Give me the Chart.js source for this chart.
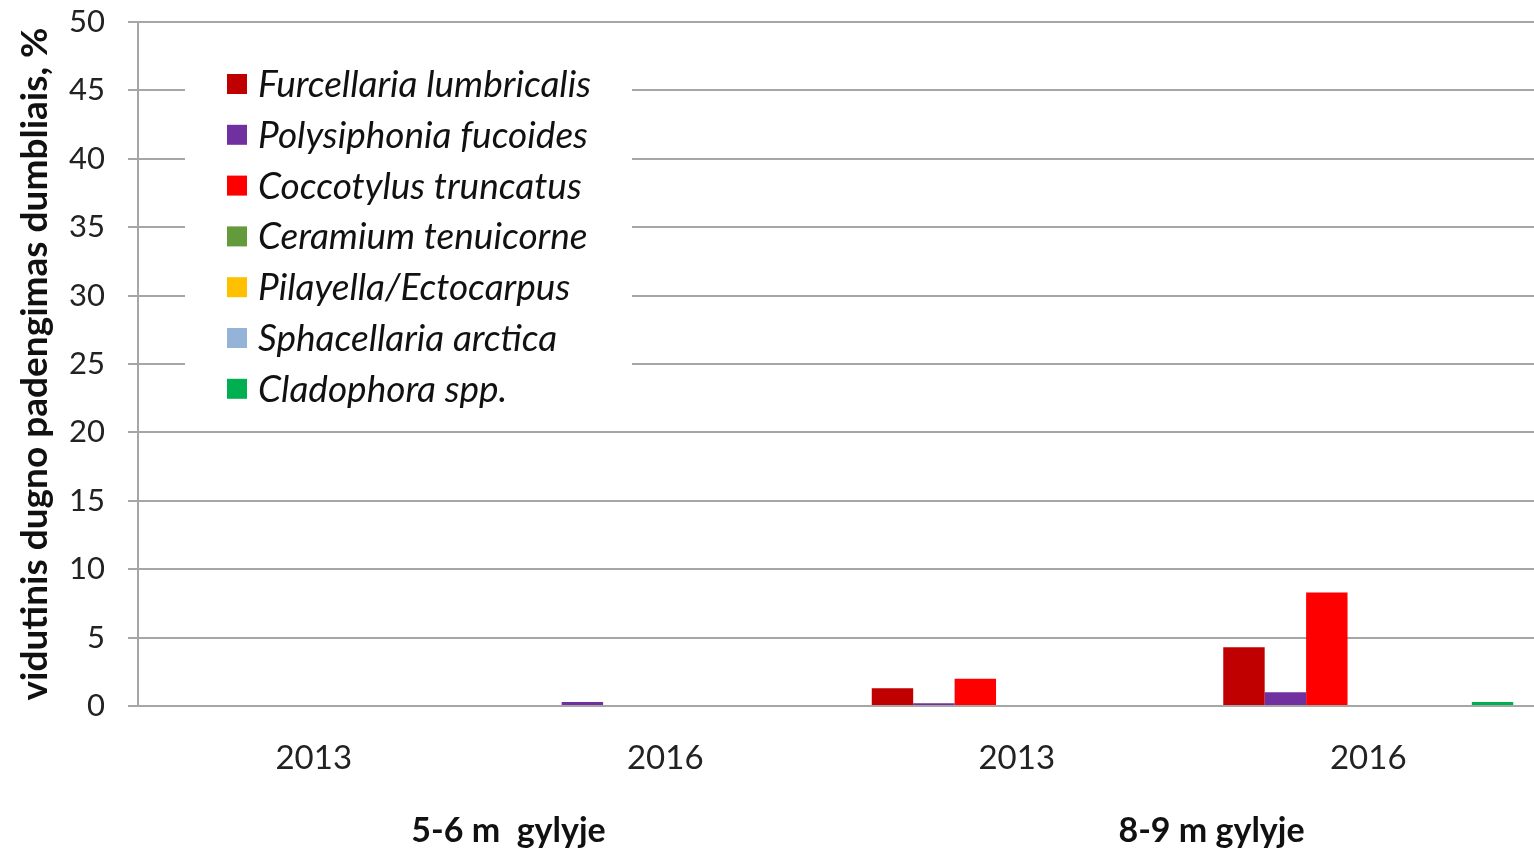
<!DOCTYPE html>
<html>
<head>
<meta charset="utf-8">
<script src="https://cdn.jsdelivr.net/npm/chart.js@4/dist/chart.umd.min.js"></script>
<style>
html,body{margin:0;padding:0;background:#fff;overflow:hidden;}
#wrap{width:1534px;height:852px;overflow:hidden;position:relative;}
canvas{display:block;}
</style>
</head>
<body>
<div id="wrap"><canvas id="c" width="1544" height="852"></canvas></div>
<script>
// ---- data ----
const years = ['2013', '2016', '2013', '2016'];
const depthGroups = ['5-6 m  gylyje', '8-9 m gylyje'];
const seriesNames = ['Furcellaria lumbricalis', 'Polysiphonia fucoides', 'Coccotylus truncatus',
  'Ceramium tenuicorne', 'Pilayella/Ectocarpus', 'Sphacellaria arctica', 'Cladophora spp.'];
const furcellaria = [0, 0, 1.3, 4.3];
const polysiphonia = [0, 0.3, 0.2, 1.0];
const coccotylus = [0, 0, 2.0, 8.3];
const ceramium = [0, 0, 0, 0];
const pilayella = [0, 0, 0, 0];
const sphacellaria = [0, 0, 0, 0];
const cladophora = [0, 0, 0, 0.3];
const yTicks = [0, 5, 10, 15, 20, 25, 30, 35, 40, 45, 50];
const yTitle = 'vidutinis dugno padengimas dumbliais, %';

const seriesValues = [furcellaria, polysiphonia, coccotylus, ceramium, pilayella, sphacellaria, cladophora];
const colors = ['#C00000', '#7030A0', '#FF0000', '#629A3C', '#FFC000', '#95B3D7', '#00B050'];

const FONT = 'Lato, "Open Sans", sans-serif';
const GRID = '#a6a6a6';

const legendPlugin = {
  id: 'insideLegend',
  afterDraw(chart) {
    const ctx = chart.ctx;
    const a = chart.chartArea;
    ctx.save();
    ctx.fillStyle = '#ffffff';
    ctx.fillRect(a.left + 47, a.top + 26, 447, 368);
    ctx.font = 'italic 37px ' + FONT;
    ctx.textBaseline = 'middle';
    ctx.textAlign = 'left';
    chart.data.datasets.forEach((ds, i) => {
      const cy = a.top + 62 + i * 50.8;
      ctx.fillStyle = ds.backgroundColor;
      ctx.fillRect(a.left + 89, cy - 10, 20, 20);
      ctx.fillStyle = '#111111';
      ctx.fillText(ds.label, a.left + 120, cy + 1);
    });
    ctx.restore();
  }
};

new Chart(document.getElementById('c'), {
  type: 'bar',
  data: {
    labels: years,
    datasets: seriesNames.map((n, i) => ({
      label: n,
      data: seriesValues[i],
      backgroundColor: colors[i],
      borderWidth: 0,
      categoryPercentage: 0.825,
      barPercentage: 1.0,
      xAxisID: 'x'
    }))
  },
  options: {
    responsive: false,
    animation: false,
    layout: { padding: { top: 22, right: 0, left: 0, bottom: 0 } },
    plugins: { legend: { display: false }, tooltip: { enabled: false }, title: { display: false } },
    scales: {
      x: {
        type: 'category',
        position: 'bottom',
        grid: { display: false, drawTicks: false },
        border: { display: true, color: GRID, width: 2 },
        ticks: { color: '#222', font: { family: FONT, size: 33 }, padding: 33, maxRotation: 0 },
        afterFit(s) { s.height = 90; }
      },
      x2: {
        type: 'category',
        position: 'bottom',
        labels: depthGroups,
        grid: { display: false, drawTicks: false },
        border: { display: false },
        ticks: { color: '#111', font: { family: FONT, size: 34, weight: 'bold' }, padding: 15, maxRotation: 0, labelOffset: 19 },
        afterFit(s) { s.height = 56; }
      },
      y: {
        min: 0, max: 50,
        afterBuildTicks(s) { s.ticks = yTicks.map(v => ({ value: v })); },
        grid: { color: GRID, lineWidth: 2, tickLength: 10, drawTicks: true },
        border: { display: true, color: GRID, width: 2 },
        ticks: { color: '#222', font: { family: FONT, size: 31 }, padding: 23 },
        title: { display: true, text: yTitle, color: '#111', font: { family: FONT, size: 37, weight: 'bold' }, padding: { top: 13, bottom: 0 } },
        afterFit(s) { s.width = 138; s.paddingTop = 0; s.paddingBottom = 0; }
      }
    }
  },
  plugins: [legendPlugin]
});
</script>
</body>
</html>
